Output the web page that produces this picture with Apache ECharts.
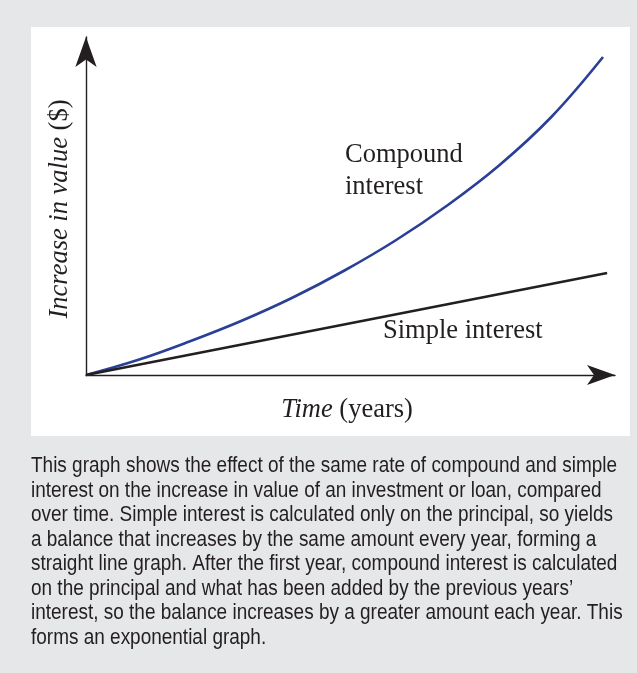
<!DOCTYPE html>
<html>
<head>
<meta charset="utf-8">
<script src="https://cdn.jsdelivr.net/npm/echarts@6/dist/echarts.min.js"></script>
<style>
  html, body { margin: 0; padding: 0; background: #e6e7e8; }
  #main { width: 637px; height: 673px; }
</style>
</head>
<body>
<div id="main"></div>
<script>
// years on x axis, values in $ (no scale printed in the figure)
var compoundYears = [0, 2.5, 5, 7.5, 10, 12.5, 15, 17.5, 20, 22.5, 25];
var compoundValues = [0, 150, 335, 540, 775, 1045, 1350, 1700, 2100, 2580, 3180];
var simpleYears = [0, 25.2];
var simpleValues = [0, 1020];
var xMax = 25.58;   // arrow tip
var yMax = 3380;

var captionLines = [
    "This graph shows the effect of the same rate of compound and simple",
    "interest on the increase in value of an investment or loan, compared",
    "over time. Simple interest is calculated only on the principal, so yields",
    "a balance that increases by the same amount every year, forming a",
    "straight line graph. After the first year, compound interest is calculated",
    "on the principal and what has been added by the previous years\u2019",
    "interest, so the balance increases by a greater amount each year. This",
    "forms an exponential graph."
];

var serif = '"Liberation Serif", "DejaVu Serif", serif';
var sans = '"Liberation Sans Narrow", "Liberation Sans", Arial, sans-serif';
var ink = '#231f20';
var fs = 26.5;

function pairs(xs, ys) {
    var out = [];
    for (var i = 0; i < xs.length; i++) out.push([xs[i], ys[i]]);
    return out;
}

// squeeze caption so the first line spans the same width as the original
var cv = document.createElement('canvas').getContext('2d');
cv.font = '22px ' + sans;
var capScale = 586 / cv.measureText(captionLines[0]).width;

var graphics = [
    {
        type: 'rect', z: -10, silent: true,
        shape: { x: 31, y: 27, width: 599, height: 409 },
        style: { fill: '#ffffff' }
    },
    {
        type: 'text', x: 345, y: 171,
        style: {
            text: 'Compound\ninterest', font: fs + 'px ' + serif, fill: ink,
            lineHeight: 32, align: 'left', verticalAlign: 'middle'
        }
    },
    {
        type: 'text', x: 383, y: 331,
        style: {
            text: 'Simple interest', font: fs + 'px ' + serif, fill: ink,
            align: 'left', verticalAlign: 'middle'
        }
    },
    {
        type: 'text', x: 347, y: 410,
        style: {
            text: '{i|Time} (years)', font: fs + 'px ' + serif, fill: ink,
            align: 'center', verticalAlign: 'middle',
            rich: { i: { font: 'italic ' + fs + 'px ' + serif, fill: ink } }
        }
    },
    {
        type: 'text', x: 60, y: 209, rotation: Math.PI / 2,
        style: {
            text: '{i|Increase in value} ($)', font: fs + 'px ' + serif, fill: ink,
            align: 'center', verticalAlign: 'middle',
            rich: { i: { font: 'italic ' + fs + 'px ' + serif, fill: ink } }
        }
    }
];

for (var k = 0; k < captionLines.length; k++) {
    graphics.push({
        type: 'text', x: 31, y: 466 + k * 24.5, scaleX: capScale,
        style: {
            text: captionLines[k], font: '22px ' + sans, fill: ink,
            align: 'left', verticalAlign: 'middle'
        }
    });
}

var chart = echarts.init(document.getElementById('main'));
var option = {
    backgroundColor: '#e6e7e8',
    animation: false,
    grid: { left: 86, top: 37, right: 22, bottom: 298 },
    xAxis: {
        type: 'value', min: 0, max: xMax,
        axisLine: {
            lineStyle: { color: ink, width: 1.4 },
            symbol: ['none', 'arrow'], symbolSize: [15, 28], symbolOffset: [0, 0]
        },
        axisTick: { show: false },
        axisLabel: { show: false },
        splitLine: { show: false }
    },
    yAxis: {
        type: 'value', min: 0, max: yMax,
        axisLine: {
            show: true,
            lineStyle: { color: ink, width: 1.4 },
            symbol: ['none', 'arrow'], symbolSize: [16, 30], symbolOffset: [0, 0]
        },
        axisTick: { show: false },
        axisLabel: { show: false },
        splitLine: { show: false }
    },
    graphic: graphics,
    series: [
        {
            name: 'Compound interest', type: 'line', smooth: 0.4,
            showSymbol: false, clip: false,
            lineStyle: { color: '#2a3f95', width: 2.6 },
            data: pairs(compoundYears, compoundValues)
        },
        {
            name: 'Simple interest', type: 'line',
            showSymbol: false, clip: false,
            lineStyle: { color: ink, width: 2.6 },
            data: pairs(simpleYears, simpleValues)
        }
    ]
};
chart.setOption(option);
</script>
</body>
</html>
